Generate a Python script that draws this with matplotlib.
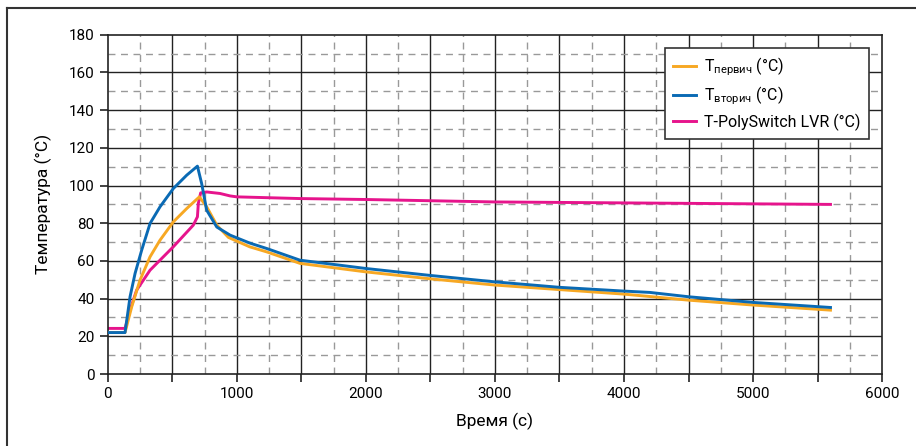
import numpy as np
import matplotlib
matplotlib.use("Agg")
import matplotlib.pyplot as plt
from matplotlib.lines import Line2D

# data
t_prim = [0, 134, 186, 250, 328, 405, 508, 612, 710, 767, 845, 935, 1100, 1232, 1490, 2000, 2500, 3000, 3500, 4000, 4500, 5000, 5600]
y_prim = [22, 22, 35.7, 49.8, 62.2, 71, 80.7, 87.8, 94, 88.7, 79, 72.5, 67.5, 64.8, 58.7, 54.2, 50.5, 47.2, 44.8, 42.4, 39.2, 36.6, 33.9]

t_sec = [0, 134, 173, 212, 263, 328, 405, 508, 612, 695, 728, 767, 845, 948, 1100, 1232, 1490, 2000, 2500, 3000, 3500, 4000, 4200, 4500, 5000, 5600]
y_sec = [22, 22, 41, 53.4, 65.7, 79.9, 88.7, 98.4, 105.5, 110.3, 101, 86.9, 78, 73.7, 69.5, 66.6, 60.4, 56, 52.3, 48.9, 46, 44, 43.3, 41, 38, 35.3]

t_lvr = [0, 134, 173, 224, 328, 508, 663, 695, 702, 720, 767, 870, 948, 1000, 1490, 2000, 3000, 4000, 5000, 5600]
y_lvr = [24.2, 24.2, 33.9, 44.5, 55.1, 67.5, 79, 83.4, 90.5, 96.1, 96.6, 95.8, 94.5, 94, 93.1, 92.6, 91.3, 90.8, 90.3, 90]

labels = ["T$_{\\mathrm{первич}}$ (°C)", "T$_{\\mathrm{вторич}}$ (°C)", "T-PolySwitch LVR (°C)"]
colors = ["#F7A823", "#0A6AB4", "#E6148C"]

plt.rcParams['font.family'] = ['Roboto', 'DejaVu Sans']
plt.rcParams['mathtext.fontset'] = 'custom'
plt.rcParams['mathtext.rm'] = 'Roboto'
plt.rcParams['mathtext.it'] = 'Roboto'
plt.rcParams['font.size'] = 11

fig = plt.figure(figsize=(9.16, 4.46), dpi=100)
ax = fig.add_axes([0.1176, 0.1614, 0.963 - 0.1176, 0.922 - 0.1614])

# grid: solid major, dashed minor
for x in np.arange(500, 6000, 500):
    ax.axvline(x, color="#222222", lw=1.0, zorder=1)
for x in np.arange(250, 6000, 500):
    ax.axvline(x, color="#999999", lw=1.0, ls=(0, (5, 4)), zorder=1)
for y in np.arange(20, 180, 20):
    ax.axhline(y, color="#222222", lw=1.0, zorder=1)
for y in np.arange(10, 180, 20):
    ax.axhline(y, color="#999999", lw=1.0, ls=(0, (5, 4)), zorder=1)

ax.plot(t_prim, y_prim, color=colors[0], lw=2.1, label=labels[0], zorder=3)
ax.plot(t_sec, y_sec, color=colors[1], lw=2.1, label=labels[1], zorder=4)
ax.plot(t_lvr, y_lvr, color=colors[2], lw=2.1, label=labels[2], zorder=2)

ax.set_xlim(0, 6000)
ax.set_ylim(0, 180)
ax.set_xticks(np.arange(0, 6001, 1000))
ax.set_xticks(np.arange(0, 6001, 500), minor=True)
ax.set_yticks(np.arange(0, 181, 20))
ax.tick_params(which="both", direction="out", length=6, width=1.2, color="#222222", labelsize=11)
for s in ax.spines.values():
    s.set_color("#222222")
    s.set_linewidth(1.2)

ax.set_xlabel("Время (с)", fontsize=12.5, labelpad=8)
ax.set_ylabel("Температура (°C)", fontsize=12.5, labelpad=12)

leg = ax.legend(loc="upper right", bbox_to_anchor=(0.983, 0.962), borderaxespad=0,
                fancybox=False, edgecolor="#333333", framealpha=1, handlelength=1.5,
                handletextpad=0.5, borderpad=0.5, labelspacing=0.4, fontsize=11.5)
leg.get_frame().set_linewidth(1.2)

# outer frame of the figure
fig.add_artist(Line2D([7 / 916, 7 / 916], [0, 1 - 8 / 446], color="#333333", lw=1.5))
fig.add_artist(Line2D([7 / 916, 1], [1 - 8 / 446, 1 - 8 / 446], color="#333333", lw=1.5))

fig.savefig("out.png", dpi=100)
